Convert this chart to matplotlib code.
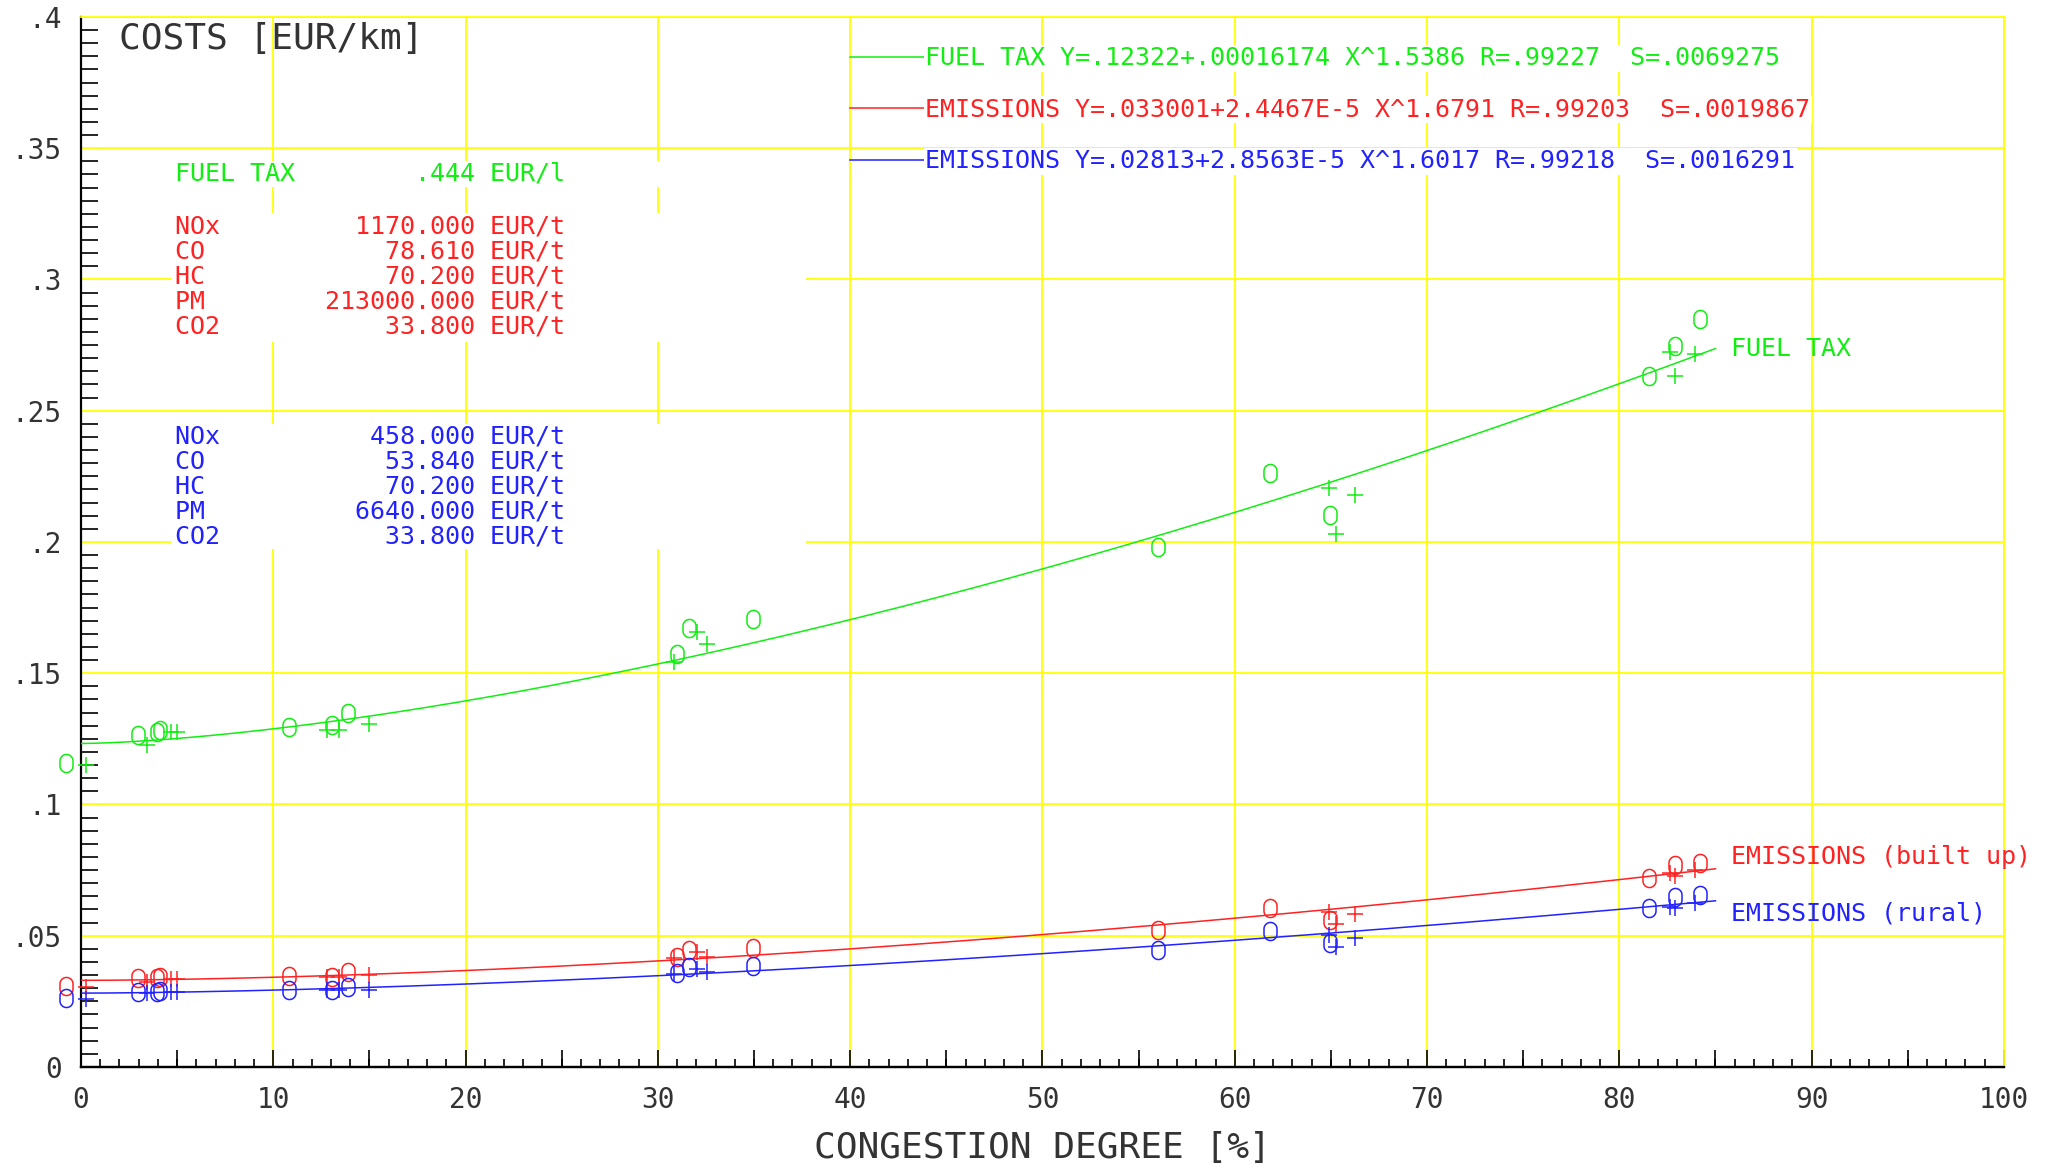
"""
Costs per km vs congestion degree - fuel tax and emission costs with power fits.
"""

import numpy as np
import matplotlib
matplotlib.use("Agg")
import matplotlib.pyplot as plt
from matplotlib.path import Path
from matplotlib.patches import Rectangle

plt.rcParams['font.family'] = ['DejaVu Sans Mono', 'DejaVu Sans']

GREEN = '#11ee11'
RED = '#ff2222'
BLUE = '#2222ff'
GRID = '#ffff00'

# ---- data ----
# "O" points (same x for all three series)
o_x = [-0.8, 2.98, 3.94, 4.1, 10.83, 13.04, 13.87, 30.98, 31.63, 34.96,
       56.0, 61.83, 64.95, 81.56, 82.91, 84.18]
fuel_o_y = [0.1157, 0.1265, 0.1277, 0.1285, 0.1296, 0.1303, 0.1347, 0.1573,
            0.1671, 0.1705, 0.1981, 0.2264, 0.2101, 0.2631, 0.2748, 0.2848]
built_o_y = [0.0309, 0.0338, 0.0340, 0.0342, 0.0347, 0.0344, 0.0361, 0.0420,
             0.0446, 0.0452, 0.0523, 0.0606, 0.0558, 0.0721, 0.0769, 0.0777]
rural_o_y = [0.0264, 0.0285, 0.0287, 0.0289, 0.0293, 0.0293, 0.0306, 0.0357,
             0.0382, 0.0386, 0.0445, 0.0518, 0.0474, 0.0604, 0.0649, 0.0656]

# "+" points
p_x = [0.26, 3.45, 4.7, 4.98, 12.78, 13.43, 14.99, 30.85, 32.02, 32.54,
       64.88, 65.28, 66.25, 82.65, 82.91, 83.95]
fuel_p_y = [0.1150, 0.1227, 0.1275, 0.1275, 0.1284, 0.1284, 0.1305, 0.1544,
            0.1656, 0.1610, 0.2206, 0.2031, 0.2177, 0.2724, 0.2631, 0.2716]
built_p_y = [0.0304, 0.0325, 0.0335, 0.0335, 0.0344, 0.0344, 0.0350, 0.0415,
             0.0437, 0.0420, 0.0592, 0.0543, 0.0582, 0.0738, 0.0728, 0.0750]
rural_p_y = [0.0259, 0.0280, 0.0287, 0.0287, 0.0293, 0.0293, 0.0295, 0.0355,
             0.0373, 0.0361, 0.0502, 0.0458, 0.0490, 0.0611, 0.0606, 0.0624]

# fit coefficients Y = a + b * X^c (from the chart legend)
fuel_fit = (0.12322, 0.00016174, 1.5386)
built_fit = (0.033001, 2.4467e-5, 1.6791)
rural_fit = (0.02813, 2.8563e-5, 1.6017)
FIT_XMAX = 85

legend_labels = [
    'FUEL TAX Y=.12322+.00016174 X^1.5386 R=.99227  S=.0069275',
    'EMISSIONS Y=.033001+2.4467E-5 X^1.6791 R=.99203  S=.0019867',
    'EMISSIONS Y=.02813+2.8563E-5 X^1.6017 R=.99218  S=.0016291',
]

fuel_tax_line = ('FUEL TAX', '.444', 'EUR/l')
pollutants = ['NOx', 'CO', 'HC', 'PM', 'CO2']
built_rates = ['1170.000', '78.610', '70.200', '213000.000', '33.800']
rural_rates = ['458.000', '53.840', '70.200', '6640.000', '33.800']

x_ticks = [0, 10, 20, 30, 40, 50, 60, 70, 80, 90, 100]
x_ticklabels = ['0', '10', '20', '30', '40', '50', '60', '70', '80', '90', '100']
y_ticks = [0, 0.05, 0.1, 0.15, 0.2, 0.25, 0.3, 0.35, 0.4]
y_ticklabels = ['0', '.05', '.1', '.15', '.2', '.25', '.3', '.35', '.4']


def o_marker():
    # tall rounded "O" like the plotter font
    r, h = 0.36, 0.14
    t = np.linspace(0, np.pi, 24)
    top = np.column_stack([r * np.cos(t), h + r * np.sin(t)])
    bot = np.column_stack([r * np.cos(t + np.pi), -h + r * np.sin(t + np.pi)])
    verts = np.vstack([top, bot, top[:1]])
    return Path(verts, closed=True)


def block(name_vals, unit):
    return '\n'.join(f'{n:<10}{v:>10} {unit}' for n, v in name_vals)


fig = plt.figure(figsize=(20.45, 11.68), dpi=100)
ax = fig.add_axes([0.0396, 0.0865, 0.9403, 0.899])

ax.set_xlim(0, 100)
ax.set_ylim(0, 0.4)

# grid + ticks
ax.grid(True, which='major', color=GRID, linewidth=1.3)
ax.set_xticks(x_ticks)
ax.set_xticklabels(x_ticklabels)
ax.set_yticks(y_ticks)
ax.set_yticklabels(y_ticklabels)
ax.set_xticks(np.arange(0, 101, 1), minor=True)
ax.set_yticks(np.arange(0, 0.4001, 0.005), minor=True)
ax.tick_params(axis='x', which='major', direction='in', length=12, width=1.2,
               labelsize=20, pad=14, colors='black')
ax.tick_params(axis='x', which='minor', direction='in', length=6, width=1.2)
ax.tick_params(axis='y', which='major', direction='in', length=0,
               labelsize=20, pad=14)
ax.tick_params(axis='y', which='minor', direction='in', length=12, width=1.2)
for lab in ax.get_xticklabels() + ax.get_yticklabels():
    lab.set_color('#333333')

sec = ax.secondary_xaxis('bottom')
sec.set_xticks(np.arange(5, 100, 10))
sec.tick_params(direction='in', length=12, width=1.2, labelbottom=False)
sec.spines['bottom'].set_linewidth(1.6)

for s in ['left', 'bottom']:
    ax.spines[s].set_color('black')
    ax.spines[s].set_linewidth(1.6)
for s in ['top', 'right']:
    ax.spines[s].set_color(GRID)
    ax.spines[s].set_linewidth(1.3)

ax.set_xlabel('CONGESTION DEGREE [%]', fontsize=26, color='#333333', labelpad=12)

# fitted curves
xf = np.linspace(0, FIT_XMAX, 300)
handles = []
for (a, b, c), col in [(fuel_fit, GREEN), (built_fit, RED), (rural_fit, BLUE)]:
    ln, = ax.plot(xf, a + b * xf ** c, color=col, lw=1.1, zorder=3)
    handles.append(ln)

# measured points
om = o_marker()
for ys_o, ys_p, col in [(fuel_o_y, fuel_p_y, GREEN), (built_o_y, built_p_y, RED),
                        (rural_o_y, rural_p_y, BLUE)]:
    ax.plot(o_x, ys_o, linestyle='none', marker=om, ms=13, mfc='none',
            mec=col, mew=1.1, clip_on=False, zorder=4)
    ax.plot(p_x, ys_p, linestyle='none', marker='+', ms=11, mec=col,
            mew=1.1, clip_on=False, zorder=4)

# curve end labels
x_lab = FIT_XMAX + 0.8
ends = [f[0] + f[1] * FIT_XMAX ** f[2] for f in (fuel_fit, built_fit, rural_fit)]
ax.text(x_lab, ends[0], 'FUEL TAX', color=GREEN, fontsize=18, va='center')
ax.text(x_lab, ends[1] + 0.0045, 'EMISSIONS (built up)', color=RED,
        fontsize=18, va='center')
ax.text(x_lab, ends[2] - 0.0047, 'EMISSIONS (rural)', color=BLUE,
        fontsize=18, va='center')

# legend with fit equations
leg = ax.legend(handles, legend_labels, loc='upper left',
                bbox_to_anchor=(0.40, 0.972), frameon=False, fontsize=18,
                handlelength=3.0, handletextpad=0.0, labelspacing=1.1,
                borderpad=0, borderaxespad=0, labelcolor='linecolor')
for t in leg.get_texts():
    t.set_bbox(dict(facecolor='white', edgecolor='none', pad=1))

# cost rate blocks (white backgrounds break the grid like the original)
for y0, y1 in [(0.3354, 0.3453), (0.2763, 0.3255), (0.1975, 0.2449)]:
    ax.add_patch(Rectangle((4.7, y0), 33.0, y1 - y0, facecolor='white',
                           edgecolor='none', zorder=2))

ax.text(4.88, 0.3404, block([fuel_tax_line[:2]], fuel_tax_line[2]),
        color=GREEN, fontsize=18, va='center', zorder=5)
ax.text(4.88, 0.3011, block(zip(pollutants, built_rates), 'EUR/t'),
        color=RED, fontsize=18, va='center', linespacing=1.06, zorder=5)
ax.text(4.88, 0.2211, block(zip(pollutants, rural_rates), 'EUR/t'),
        color=BLUE, fontsize=18, va='center', linespacing=1.06, zorder=5)

ax.text(0.0197, 0.979, 'COSTS [EUR/km]', transform=ax.transAxes,
        fontsize=26, color='#333333', va='center')

fig.savefig('out.png', dpi=100, facecolor='white')
